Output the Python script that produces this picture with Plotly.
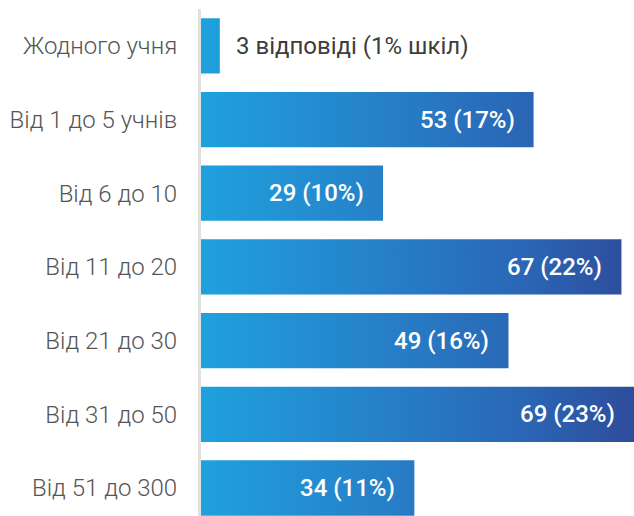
import plotly.graph_objects as go

categories = ["Жодного учня", "Від 1 до 5 учнів", "Від 6 до 10", "Від 11 до 20",
              "Від 21 до 30", "Від 31 до 50", "Від 51 до 300"]
counts = [3, 53, 29, 67, 49, 69, 34]
percents = [1, 17, 10, 22, 16, 23, 11]
labels = ["3 відповіді (1% шкіл)"] + [f"{c} ({p}%)" for c, p in zip(counts[1:], percents[1:])]

BAR_HALF = 0.375
grad = [[0.0, "#1fa1de"], [0.42, "#2680c8"], [0.75, "#2a66b5"], [1.0, "#2e4c9b"]]

fig = go.Figure()
for i, v in enumerate(counts):
    xs = [0, v, v, 0, 0]
    ys = [i - BAR_HALF, i - BAR_HALF, i + BAR_HALF, i + BAR_HALF, i - BAR_HALF]
    fig.add_trace(go.Scatter(
        x=xs, y=ys, mode="lines", fill="toself", line=dict(width=0),
        fillgradient=dict(type="horizontal", colorscale=grad, start=0, stop=max(counts)),
        hoverinfo="skip", showlegend=False))

for i, (v, lab) in enumerate(zip(counts, labels)):
    if i == 0:
        fig.add_annotation(x=v, y=i, text=lab, showarrow=False, xanchor="left",
                           xshift=14, font=dict(family="Roboto", size=24, color="#3d3d3d"))
    else:
        fig.add_annotation(x=v, y=i, text=lab, showarrow=False, xanchor="right",
                           xshift=-17, font=dict(family="Roboto", size=24, color="#ffffff", weight=500))

fig.update_layout(
    width=634, height=516,
    margin=dict(l=201, r=0, t=9, b=0),
    plot_bgcolor="white", paper_bgcolor="white",
    xaxis=dict(range=[0, 69], showgrid=False, zeroline=False, showticklabels=False,
               showline=False, fixedrange=True),
    yaxis=dict(range=[6.38, -0.5], tickvals=list(range(len(categories))), ticktext=categories,
               showgrid=False, zeroline=False, showline=True, linecolor="#e0e0e0", linewidth=3,
               ticks="", ticklabelstandoff=16, fixedrange=True,
               tickfont=dict(family="Roboto", size=24, color="#555555", weight=300)),
)
fig.write_html("out.html", config={"displayModeBar": False},
               post_script="document.body.style.margin='0';document.body.style.overflow='hidden';")
